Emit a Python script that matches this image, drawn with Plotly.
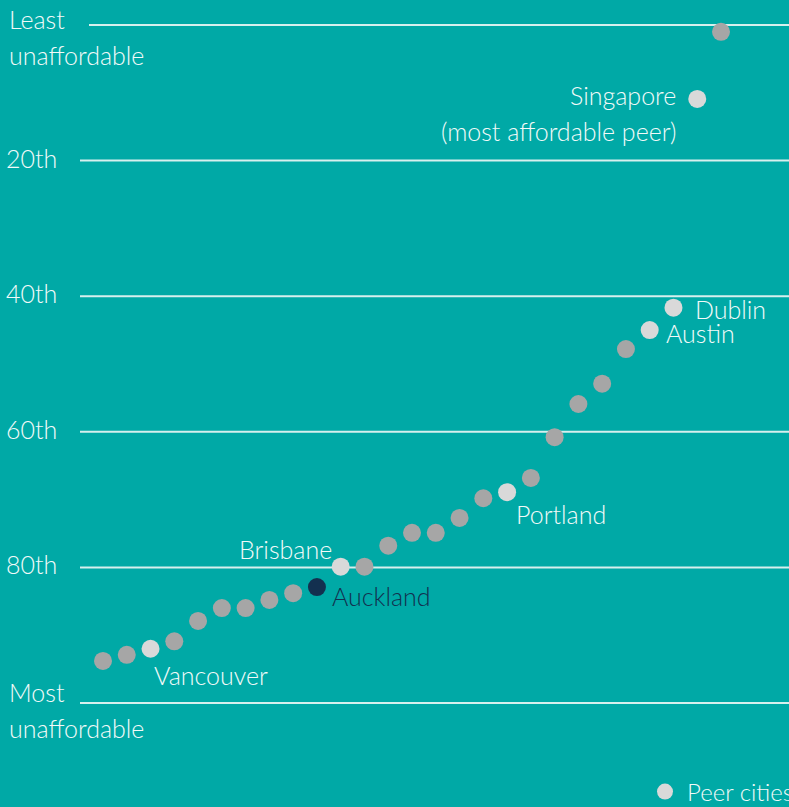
import plotly.graph_objects as go

# ---- data ----
positions = list(range(1, 28))
ranks = [93.8, 92.9, 92.0, 90.9, 87.9, 86.0, 86.0, 84.8, 83.8, 82.9, 79.9, 79.9,
         76.8, 74.9, 74.9, 72.7, 69.8, 68.9, 66.8, 60.8, 55.9, 52.9, 47.8, 45.0,
         41.7, 10.9, 1.0]
groups = ["other", "other", "peer", "other", "other", "other", "other", "other",
          "other", "auckland", "peer", "other", "other", "other", "other", "other",
          "other", "peer", "other", "other", "other", "other", "other", "peer",
          "peer", "peer", "other"]
names = ["", "", "Vancouver", "", "", "", "", "", "", "Auckland", "Brisbane", "",
         "", "", "", "", "", "Portland", "", "", "", "", "", "Austin", "Dublin",
         "Singapore", ""]
notes = {"Singapore": "(most affordable peer)"}
gridlines = [0, 20, 40, 60, 80, 100]
gridlabels = ["Least", "20th", "40th", "60th", "80th", "Most"]
gridsublabels = ["unaffordable", "", "", "", "", "unaffordable"]

BG = "#00A9A6"
LINE = "#D6F0EE"
TXT = "#F2FAF9"
GRAY = "#A6A6A6"
LIGHT = "#D9D9D9"
NAVY = "#13304F"
FONT = "Lato"
FS = 25
FW = 300

W, H = 789, 807
fig = go.Figure()

def sel(g):
    xs = [p for p, gg in zip(positions, groups) if gg == g]
    ys = [r for r, gg in zip(ranks, groups) if gg == g]
    return xs, ys

for g, col, name, show in [("other", GRAY, "Other", False),
                           ("peer", LIGHT, "Peer cities", True),
                           ("auckland", NAVY, "Auckland", False)]:
    xs, ys = sel(g)
    fig.add_trace(go.Scatter(x=xs, y=ys, mode="markers", name=name, showlegend=show,
                             marker=dict(size=18, color=col, line=dict(width=0)),
                             hoverinfo="skip"))

def tfont(col=TXT, size=FS):
    return dict(family=FONT, size=size, color=col, weight=FW)

# gridlines
label_shift = {0: (6, -30), 100: (11, -25)}
for v, lab, sub in zip(gridlines, gridlabels, gridsublabels):
    x0 = 89 / W if v == 0 else 80 / W
    fig.add_shape(type="line", xref="paper", yref="y", x0=x0, x1=1, y0=v, y1=v,
                  line=dict(color=LINE, width=2), layer="below")
    if sub:
        up, down = label_shift[v]
        fig.add_annotation(xref="paper", yref="y", x=7 / W, y=v, text=lab, showarrow=False,
                           xanchor="left", yanchor="middle", yshift=up, font=tfont())
        fig.add_annotation(xref="paper", yref="y", x=7 / W, y=v, text=sub, showarrow=False,
                           xanchor="left", yanchor="middle", yshift=down, font=tfont())
    else:
        fig.add_annotation(xref="paper", yref="y", x=4 / W, y=v, text=lab, showarrow=False,
                           xanchor="left", yanchor="middle", yshift=3, font=tfont())

# city labels
label_pos = {
    "Vancouver": dict(xanchor="left", yanchor="middle", xshift=1, yshift=-26),
    "Auckland": dict(xanchor="left", yanchor="middle", xshift=13, yshift=-9),
    "Brisbane": dict(xanchor="right", yanchor="middle", xshift=-7, yshift=18),
    "Portland": dict(xanchor="left", yanchor="middle", xshift=7, yshift=-22),
    "Austin": dict(xanchor="left", yanchor="middle", xshift=14, yshift=-3),
    "Dublin": dict(xanchor="left", yanchor="middle", xshift=20, yshift=-1),
    "Singapore": dict(xanchor="right", yanchor="middle", xshift=-19, yshift=4),
}
for p, r, n, g in zip(positions, ranks, names, groups):
    if not n:
        continue
    col = NAVY if g == "auckland" else TXT
    fig.add_annotation(x=p, y=r, text=n, showarrow=False, font=tfont(col), **label_pos[n])
    if n in notes:
        fig.add_annotation(x=p, y=r, text=notes[n], showarrow=False, font=tfont(col),
                           xanchor="right", yanchor="middle", xshift=-18, yshift=-32)

# axis mapping: x pixel = 103 + (i-1)*23.77 ; y pixel = 25 + rank*6.78
xr = [1 - 103 / 23.77, 1 + (W - 103) / 23.77]
yr = [(H - 25) / 6.78, -25 / 6.78]

fig.update_layout(
    width=W, height=H,
    margin=dict(l=0, r=0, t=0, b=0, autoexpand=False),
    paper_bgcolor=BG, plot_bgcolor=BG,
    xaxis=dict(range=xr, visible=False, fixedrange=True),
    yaxis=dict(range=yr, visible=False, fixedrange=True),
    font=dict(family=FONT, size=FS, color=TXT),
    legend=dict(x=643 / W, y=1 - 792 / H, xanchor="left", yanchor="middle",
                bgcolor="rgba(0,0,0,0)", font=tfont(size=24),
                itemwidth=34),
    showlegend=True,
)

fig.write_html("out.html", config={"displayModeBar": False},
               post_script=("document.documentElement.style.overflow='hidden';"
                            "document.body.style.margin='0';"
                            "document.body.style.overflow='hidden';"
                            "document.body.style.background='%s';" % BG))
